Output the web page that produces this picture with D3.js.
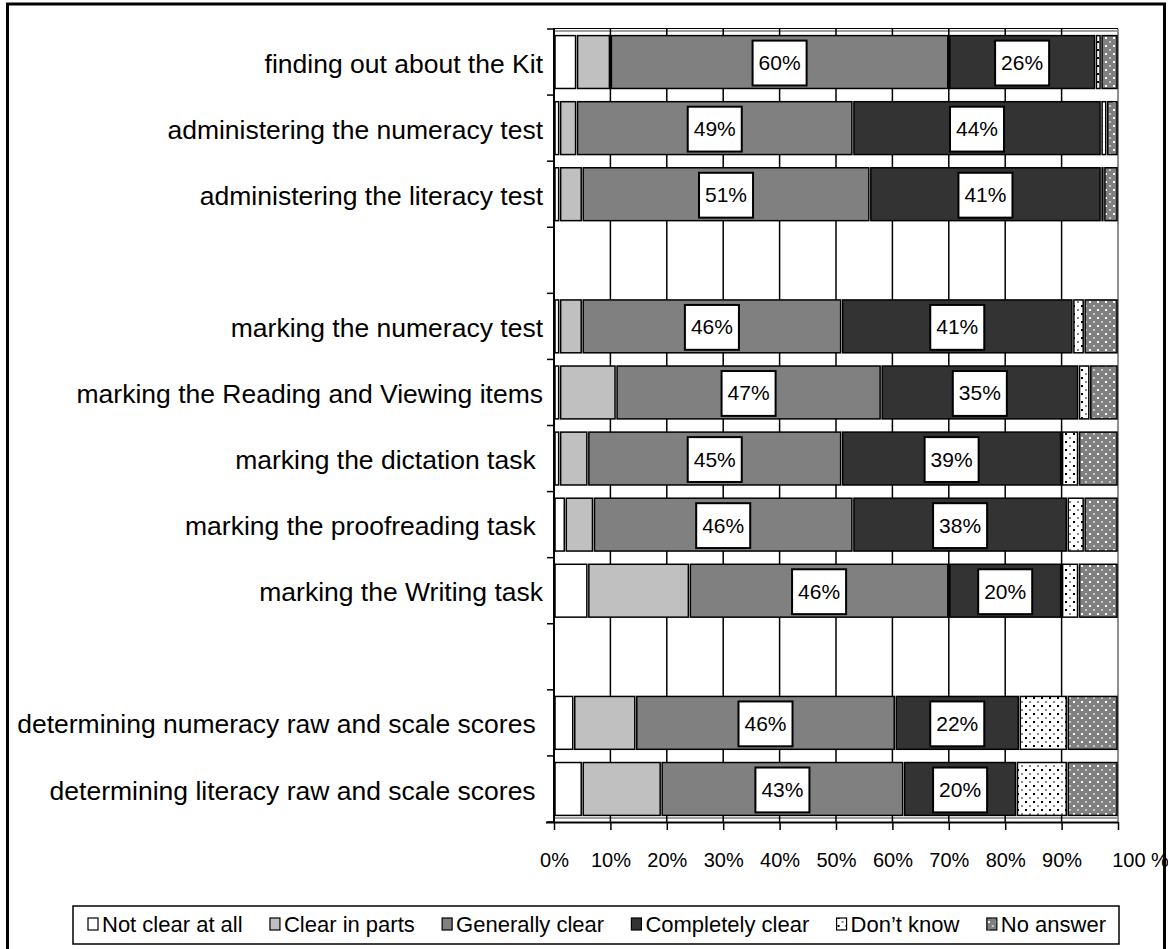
<!DOCTYPE html>
<html>
<head>
<meta charset="utf-8">
<script src="https://cdn.jsdelivr.net/npm/d3@7"></script>
<style>
  body { margin: 0; background: #fff; }
  svg { display: block; }
  text { font-family: "Liberation Sans", Arial, Helvetica, sans-serif; fill: #000; white-space: pre; }
</style>
</head>
<body>
<svg id="chart" width="1168" height="949"></svg>
<script>
// Row labels (empty strings are spacer rows between the three groups)
const categories = [
  "finding out about the Kit",
  "administering the numeracy test",
  "administering the literacy test",
  "",
  "marking the numeracy test",
  "marking the Reading and Viewing items",
  "marking the dictation task ",
  "marking the proofreading task ",
  "marking the Writing task",
  "",
  "determining numeracy raw and scale scores ",
  "determining literacy raw and scale scores "
];

// Percentage of responses per row, one array per response option
const notClear        = [4, 1, 1, null, 1, 1, 1, 2, 6, null, 3.5, 5];
const clearInParts    = [6, 3, 4, null, 4, 10, 5, 5, 18, null, 11, 14];
const generallyClear  = [60, 49, 51, null, 46, 47, 45, 46, 46, null, 46, 43];
const completelyClear = [26, 44, 41, null, 41, 35, 39, 38, 20, null, 22, 20];
const dontKnow        = [1, 1, 0.5, null, 2, 2, 3, 3, 3, null, 8.5, 9];
const noAnswer        = [3, 2, 2.5, null, 6, 5, 7, 6, 7, null, 9, 9];

const seriesNames = ["Not clear at all", "Clear in parts", "Generally clear", "Completely clear", "Don\u2019t know", "No answer"];
const xTicks = [0, 10, 20, 30, 40, 50, 60, 70, 80, 90, 100];
const labelledSeries = ["Generally clear", "Completely clear"];

const seriesValues = [notClear, clearInParts, generallyClear, completelyClear, dontKnow, noAnswer];
const table = categories.map((c, i) => {
  const row = { idx: i, category: c, blank: generallyClear[i] == null };
  seriesNames.forEach((s, k) => { row[s] = seriesValues[k][i] || 0; });
  return row;
});

const svg = d3.select("#chart");
const font = '"Liberation Sans", Arial, Helvetica, sans-serif';

// Fill patterns for the two dotted categories
const defs = svg.append("defs");
const pDK = defs.append("pattern").attr("id", "pat-dk").attr("patternUnits", "userSpaceOnUse")
  .attr("width", 8).attr("height", 8);
pDK.append("rect").attr("width", 8).attr("height", 8).attr("fill", "#fff");
pDK.append("rect").attr("x", 1).attr("y", 1).attr("width", 2).attr("height", 2).attr("fill", "#000");
pDK.append("rect").attr("x", 5).attr("y", 5).attr("width", 2).attr("height", 2).attr("fill", "#8a8a8a");

const pNA = defs.append("pattern").attr("id", "pat-na").attr("patternUnits", "userSpaceOnUse")
  .attr("width", 8).attr("height", 8);
pNA.append("rect").attr("width", 8).attr("height", 8).attr("fill", "#808080");
pNA.append("rect").attr("x", 1).attr("y", 5).attr("width", 2).attr("height", 2).attr("fill", "#fff");
pNA.append("rect").attr("x", 5).attr("y", 1).attr("width", 2).attr("height", 2).attr("fill", "#c8c8c8");

const fills = d3.scaleOrdinal()
  .domain(seriesNames)
  .range(["#ffffff", "#c0c0c0", "#808080", "#333333", "url(#pat-dk)", "url(#pat-na)"]);

// Outer frame
svg.append("rect").attr("x", 7.5).attr("y", 4).attr("width", 1157).attr("height", 980)
  .attr("fill", "none").attr("stroke", "#000").attr("stroke-width", 3);

// Scales
const x = d3.scaleLinear().domain([0, 100]).range([554, 1118]);
const y = d3.scaleBand().domain(d3.range(categories.length)).range([29, 822])
  .paddingInner(0.2).paddingOuter(0.1);
const plotTop = y.range()[0], plotBottom = y.range()[1];

// Plot frame and grid
const grid = svg.append("g");
grid.append("line").attr("x1", x(0)).attr("x2", x(100)).attr("y1", plotTop - 0.5).attr("y2", plotTop - 0.5)
  .attr("stroke", "#000").attr("stroke-width", 1);
grid.append("line").attr("x1", x(0)).attr("x2", x(100)).attr("y1", plotTop + 2).attr("y2", plotTop + 2)
  .attr("stroke", "#a0a0a0").attr("stroke-width", 2);
grid.append("line").attr("x1", x(0)).attr("x2", x(100)).attr("y1", plotBottom - 4).attr("y2", plotBottom - 4)
  .attr("stroke", "#a0a0a0").attr("stroke-width", 2);
grid.append("line").attr("x1", x(100)).attr("x2", x(100)).attr("y1", plotTop).attr("y2", plotBottom)
  .attr("stroke", "#909090").attr("stroke-width", 2);
grid.selectAll("line.v").data(xTicks.filter(t => t > 0 && t < 100)).join("line")
  .attr("class", "v")
  .attr("x1", d => x(d)).attr("x2", d => x(d)).attr("y1", plotTop - 1).attr("y2", plotBottom)
  .attr("stroke", "#000").attr("stroke-width", 1.5);

// Stacked bars
const stack = d3.stack().keys(seriesNames);
const stacked = stack(table);
const barsG = svg.append("g");
stacked.forEach(layer => {
  barsG.append("g").selectAll("rect")
    .data(layer.filter(d => !d.data.blank && d[1] - d[0] > 0))
    .join("rect")
    .attr("x", d => x(d[0]) + 1)
    .attr("y", d => y(d.data.idx))
    .attr("width", d => Math.max(0.8, x(d[1]) - x(d[0]) - 2))
    .attr("height", y.bandwidth())
    .attr("fill", fills(layer.key))
    .attr("stroke", "#000")
    .attr("stroke-width", 1.5);
});

// Value labels on the two main series
const labelG = svg.append("g");
stacked.filter(l => labelledSeries.includes(l.key)).forEach(layer => {
  layer.filter(d => !d.data.blank).forEach(d => {
    const cx = (x(d[0]) + x(d[1])) / 2;
    const cy = y(d.data.idx) + y.bandwidth() / 2;
    const g = labelG.append("g");
    const t = g.append("text")
      .attr("x", cx).attr("y", cy + 8)
      .attr("text-anchor", "middle")
      .attr("font-size", 21)
      .text(Math.round(d[1] - d[0]) + "%");
    const w = t.node().getComputedTextLength() + 12;
    const h = y.bandwidth() - 8;
    g.insert("rect", "text")
      .attr("x", cx - w / 2).attr("y", cy - h / 2 + 1)
      .attr("width", w).attr("height", h)
      .attr("fill", "#fff").attr("stroke", "#000").attr("stroke-width", 2);
  });
});

// Left axis with ticks on row boundaries
const yAxisG = svg.append("g");
yAxisG.append("line").attr("x1", x(0)).attr("x2", x(0)).attr("y1", plotTop - 1).attr("y2", plotBottom)
  .attr("stroke", "#000").attr("stroke-width", 2);
yAxisG.selectAll("line.tick").data(d3.range(categories.length + 1)).join("line")
  .attr("class", "tick")
  .attr("x1", x(0) - 7).attr("x2", x(0))
  .attr("y1", i => plotTop + i * y.step()).attr("y2", i => plotTop + i * y.step())
  .attr("stroke", "#000").attr("stroke-width", 1.5);
yAxisG.selectAll("text").data(table).join("text")
  .attr("x", 543)
  .attr("y", d => y(d.idx) + y.bandwidth() / 2)
  .attr("dy", "0.4em")
  .attr("text-anchor", "end")
  .attr("font-size", 26.5)
  .text(d => d.category);

// Bottom axis
const xAxis = d3.axisBottom(x)
  .tickValues(xTicks)
  .tickSize(8)
  .tickPadding(23)
  .tickFormat(d => d === 100 ? "100 %" : d + "%");
const xAxisG = svg.append("g").attr("transform", `translate(0,${plotBottom})`).call(xAxis);
xAxisG.select(".domain").attr("stroke", "#000").attr("stroke-width", 2)
  .attr("d", `M${x(0) - 8},0.5H${x(100)}`);
xAxisG.selectAll(".tick line").attr("stroke", "#000").attr("stroke-width", 1.5);
xAxisG.selectAll(".tick text").attr("font-size", 20).attr("font-family", font).attr("fill", "#000");
xAxisG.selectAll(".tick").filter(d => d === 100).select("text").attr("x", 22);

// Legend: markers and names spread across the box
const legend = svg.append("g");
legend.append("rect").attr("x", 73).attr("y", 906).attr("width", 1046).attr("height", 38)
  .attr("fill", "#fff").attr("stroke", "#000").attr("stroke-width", 1.5);
const items = legend.selectAll("g.item").data(seriesNames).join("g").attr("class", "item");
items.append("rect").attr("width", 10).attr("height", 12).attr("y", -14)
  .attr("fill", d => fills(d)).attr("stroke", "#000").attr("stroke-width", 1.2);
items.append("text").attr("x", 14).attr("font-size", 22).text(d => d);
const widths = items.nodes().map(n => n.getBBox().width);
const legendStart = 88, legendEnd = 1106;
const gap = (legendEnd - legendStart - d3.sum(widths)) / (widths.length - 1);
let cx0 = legendStart;
items.each(function (d, i) {
  d3.select(this).attr("transform", `translate(${cx0},932)`);
  cx0 += widths[i] + gap;
});
</script>
</body>
</html>
